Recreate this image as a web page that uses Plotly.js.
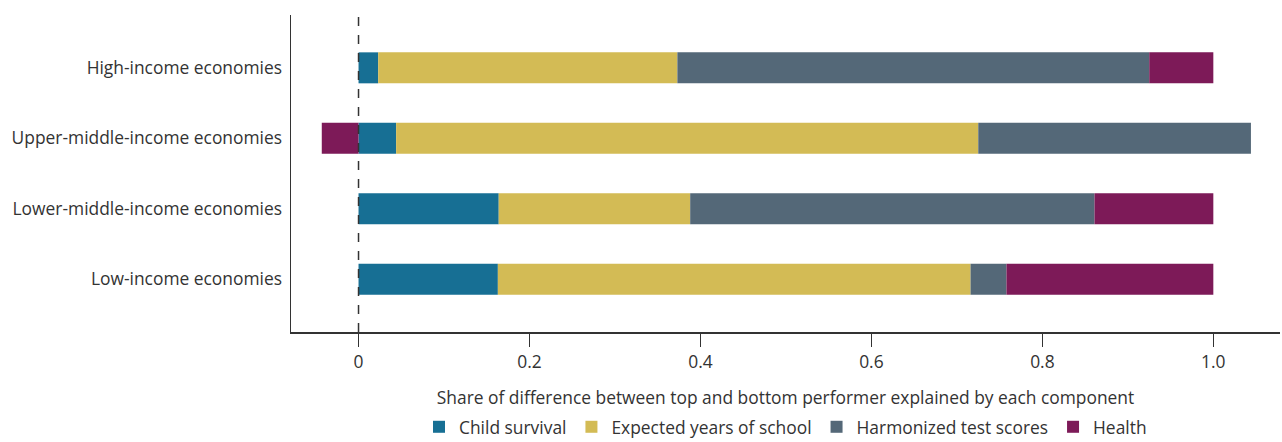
<!DOCTYPE html>
<html><head><meta charset="utf-8">
<script src="https://cdn.plot.ly/plotly-3.0.1.min.js"></script>
<style>html,body{margin:0;padding:0;background:#fff}#chart{width:1282px;height:442px}</style>
</head><body><div id="chart"></div>
<script>
var categories = ["Low-income economies","Lower-middle-income economies","Upper-middle-income economies","High-income economies"];
var childSurvival = [0.163, 0.164, 0.044, 0.023];
var expectedSchool = [0.553, 0.224, 0.681, 0.350];
var testScores = [0.042, 0.473, 0.319, 0.552];
var health = [0.242, 0.139, -0.043, 0.075];
var seriesNames = ["Child survival","Expected years of school","Harmonized test scores","Health"];
var colors = ["#176F94","#D3BB55","#546878","#7D1A58"];
var tickVals = [0, 0.2, 0.4, 0.6, 0.8, 1.0];
var tickText = ["0","0.2","0.4","0.6","0.8","1.0"];

var vals = [childSurvival, expectedSchool, testScores, health];
var traces = vals.map(function(v,i){
  return {type:'bar', orientation:'h', y:categories, x:v, name:seriesNames[i],
    marker:{color:colors[i], line:{width:0}}, width:0.44, hoverinfo:'x+name'};
});
var font = "'Open Sans', sans-serif";
var fs = 17.4;
var layout = {
  width:1282, height:442,
  margin:{l:291, r:2, t:15, b:110, autoexpand:false},
  barmode:'relative',
  paper_bgcolor:'#fff', plot_bgcolor:'#fff',
  font:{family:font, size:fs, color:'#333'},
  xaxis:{range:[-0.079,1.078], tickvals:tickVals, ticktext:tickText, showgrid:false, zeroline:false, automargin:false,
    showline:true, linecolor:'#333', linewidth:1.5, ticks:'outside', ticklen:13, tickcolor:'#333', tickwidth:1,
    tickfont:{size:fs, color:'#333'}, ticklabelstandoff:1,
    title:{text:'Share of difference between top and bottom performer explained by each component', font:{size:fs,color:'#333'}, standoff:19}},
  yaxis:{range:[-0.75,3.75], showgrid:false, zeroline:false, showline:true, linecolor:'#333', linewidth:1.5, automargin:false,
    ticks:'', ticklabelstandoff:4, tickfont:{size:fs,color:'#333'}},
  showlegend:true,
  legend:{orientation:'h', x:0.5, xanchor:'center', yref:'container', y:0.034, yanchor:'middle', font:{size:fs,color:'#333'},
    itemwidth:30, tracegroupgap:0, traceorder:'normal'},
  shapes:[{type:'line', xref:'x', yref:'paper', x0:0, x1:0, y0:0, y1:1,
    line:{color:'#333', width:1.5, dash:'dash'}, layer:'above'}]
};
Plotly.newPlot('chart', traces, layout, {displayModeBar:false, staticPlot:true});
</script></body></html>
